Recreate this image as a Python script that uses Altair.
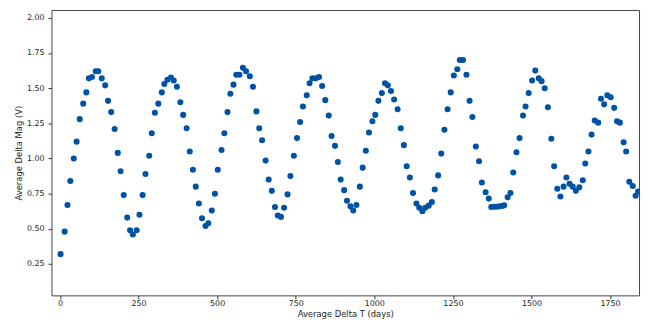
import altair as alt
import pandas as pd

days = [2, 15, 24, 33, 44, 53, 63, 74, 84, 92, 102, 114, 122, 133, 144, 153, 163, 174, 184, 193,
        203, 214, 223, 232, 244, 253, 263, 272, 284, 292, 302, 313, 324, 332, 342, 353, 362, 372,
        383, 392, 403, 413, 423, 432, 442, 452, 463, 472, 483, 493, 502, 514, 523, 533, 542, 552,
        561, 571, 582, 592, 604, 614, 625, 634, 643, 654, 664, 674, 684, 693, 703, 713, 724, 733,
        744, 754, 764, 773, 785, 794, 803, 814, 824, 834, 844, 855, 864, 875, 884, 893, 904, 913,
        924, 933, 943, 954, 963, 973, 983, 994, 1003, 1013, 1024, 1034, 1043, 1053, 1063, 1074,
        1084, 1094, 1103, 1113, 1123, 1134, 1143, 1153, 1162, 1173, 1183, 1192, 1203, 1213, 1223,
        1233, 1243, 1253, 1264, 1272, 1282, 1293, 1303, 1312, 1323, 1333, 1342, 1354, 1364, 1372,
        1381, 1389, 1398, 1406, 1413, 1424, 1433, 1442, 1452, 1462, 1473, 1481, 1491, 1502, 1512,
        1523, 1532, 1542, 1552, 1563, 1572, 1582, 1592, 1602, 1611, 1621, 1631, 1641, 1652, 1663,
        1671, 1681, 1691, 1701, 1712, 1721, 1731, 1741, 1752, 1763, 1772, 1781, 1793, 1801, 1811,
        1822, 1831, 1839]

mags = [0.32, 0.48, 0.67, 0.84, 1.00, 1.12, 1.28, 1.39, 1.47, 1.57, 1.58, 1.62, 1.62, 1.57, 1.52,
        1.41, 1.33, 1.21, 1.04, 0.91, 0.74, 0.58, 0.49, 0.46, 0.49, 0.60, 0.74, 0.89, 1.02, 1.18,
        1.325, 1.39, 1.47, 1.53, 1.56, 1.575, 1.555, 1.51, 1.40, 1.31, 1.215, 1.05, 0.92, 0.80,
        0.68, 0.575, 0.52, 0.54, 0.63, 0.75, 0.92, 1.06, 1.18, 1.33, 1.46, 1.525, 1.595, 1.595,
        1.645, 1.62, 1.585, 1.51, 1.335, 1.215, 1.13, 0.985, 0.85, 0.77, 0.655, 0.595, 0.585,
        0.65, 0.745, 0.875, 1.02, 1.145, 1.26, 1.37, 1.45, 1.535, 1.57, 1.57, 1.58, 1.515, 1.415,
        1.305, 1.16, 1.09, 0.975, 0.85, 0.775, 0.70, 0.66, 0.63, 0.67, 0.80, 0.935, 1.055, 1.185,
        1.265, 1.31, 1.41, 1.465, 1.535, 1.52, 1.48, 1.42, 1.35, 1.215, 1.095, 0.945, 0.865, 0.755,
        0.68, 0.65, 0.625, 0.65, 0.665, 0.69, 0.78, 0.88, 1.035, 1.205, 1.35, 1.47, 1.59, 1.635,
        1.70, 1.70, 1.595, 1.41, 1.295, 1.085, 0.98, 0.83, 0.76, 0.715, 0.655, 0.657, 0.657, 0.66,
        0.662, 0.667, 0.725, 0.755, 0.90, 1.045, 1.145, 1.305, 1.37, 1.465, 1.555, 1.625, 1.57,
        1.55, 1.50, 1.365, 1.14, 0.945, 0.785, 0.73, 0.80, 0.865, 0.82, 0.80, 0.77, 0.795, 0.845,
        0.965, 1.05, 1.17, 1.27, 1.255, 1.425, 1.385, 1.45, 1.435, 1.36, 1.265, 1.255, 1.115,
        1.05, 0.835, 0.805, 0.735, 0.765]

x_ticks = [0, 250, 500, 750, 1000, 1250, 1500, 1750]
y_ticks = [0.25, 0.50, 0.75, 1.00, 1.25, 1.50, 1.75, 2.00]

df = pd.DataFrame({"t": days, "mag": mags})

FONT = "DejaVu Sans"
LABEL_SIZE = 8
TITLE_SIZE = 8.5

chart = alt.Chart(df).mark_circle(size=38, color="#0052a5", opacity=1, clip=True).encode(
    x=alt.X("t:Q",
            scale=alt.Scale(domain=[-27, 1842], nice=False, zero=False),
            axis=alt.Axis(title="Average Delta T (days)", values=x_ticks, format="d",
                          grid=False, domain=False, tickSize=3.5, tickColor="#333",
                          labelFont=FONT, labelFontSize=LABEL_SIZE, labelColor="#222",
                          labelPadding=1,
                          titleFont=FONT, titleFontSize=TITLE_SIZE, titleFontWeight="normal",
                          titleColor="#222", titlePadding=2)),
    y=alt.Y("mag:Q",
            scale=alt.Scale(domain=[0.027, 2.056], nice=False, zero=False),
            axis=alt.Axis(title="Average Delta Mag (V)", values=y_ticks, format=".2f",
                          grid=False, domain=False, tickSize=3.5, tickColor="#333",
                          labelFont=FONT, labelFontSize=LABEL_SIZE, labelColor="#222",
                          labelPadding=4,
                          titleFont=FONT, titleFontSize=TITLE_SIZE, titleFontWeight="normal",
                          titleColor="#222", titlePadding=3)),
).properties(
    width=595,
    height=289,
    autosize=alt.AutoSizeParams(type="none"),
    padding={"left": 44, "top": 0, "right": 3, "bottom": 28},
    background="white",
).configure_view(
    stroke="#444", strokeWidth=1
)

chart.save("out.html", embed_options={"renderer": "svg", "actions": False})
